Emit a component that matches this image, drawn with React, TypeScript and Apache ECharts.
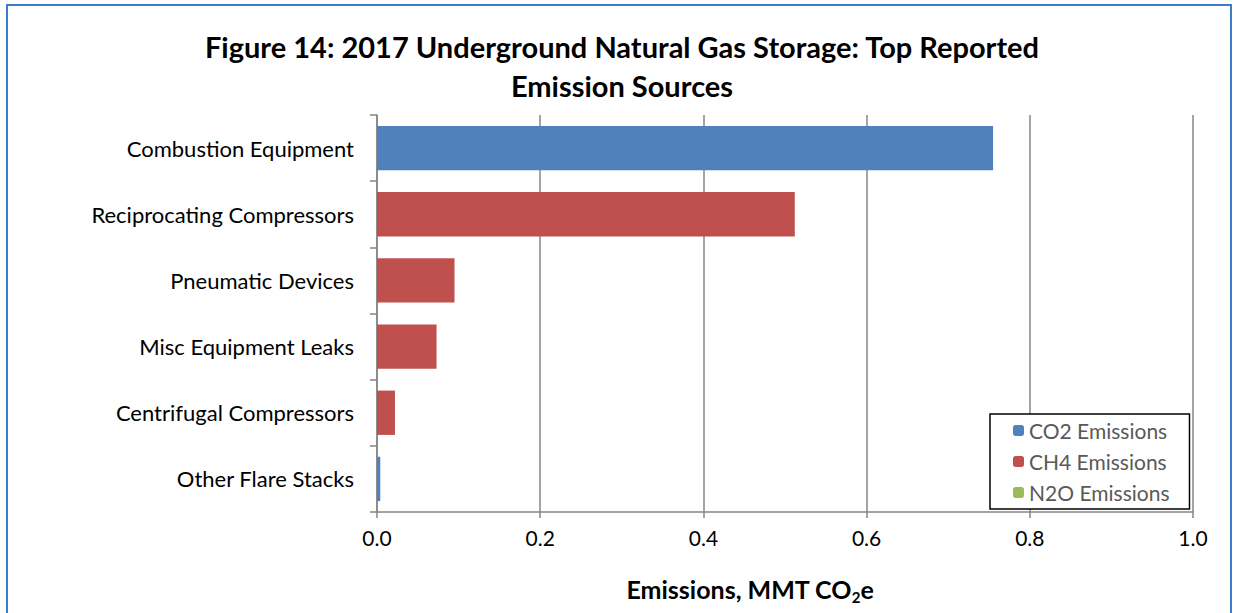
import React, { useEffect, useRef } from "react";
import * as echarts from "echarts";

const categories = [
  "Combustion Equipment",
  "Reciprocating Compressors",
  "Pneumatic Devices",
  "Misc Equipment Leaks",
  "Centrifugal Compressors",
  "Other Flare Stacks",
];
const co2Values = [0.755, 0, 0, 0, 0, 0.004];
const ch4Values = [0, 0.512, 0.095, 0.073, 0.022, 0];
const n2oValues = [0, 0, 0, 0, 0, 0];
const seriesNames = ["CO2 Emissions", "CH4 Emissions", "N2O Emissions"];
const seriesColors = ["#4F81BD", "#C0504D", "#9BBB59"];
const titleLines = [
  "Figure 14: 2017 Underground Natural Gas Storage: Top Reported",
  "Emission Sources",
];

const FONT = "Lato, 'Open Sans', sans-serif";

export default function App() {
  const ref = useRef<HTMLDivElement>(null);
  useEffect(() => {
    document.body.style.margin = "0";
    const chart = echarts.init(ref.current!, null, { renderer: "svg" });
    const values = [co2Values, ch4Values, n2oValues];
    chart.setOption({
      animation: false,
      backgroundColor: "#ffffff",
      textStyle: { fontFamily: FONT },
      grid: { left: 377, right: 45, top: 115, bottom: 101 },
      legend: {
        orient: "vertical",
        left: 990,
        top: 414,
        data: seriesNames,
        itemWidth: 11,
        itemHeight: 11,
        itemGap: 10,
        padding: [6, 20, 6, 23],
        borderColor: "#000000",
        borderWidth: 1.5,
        backgroundColor: "#ffffff",
        textStyle: { fontSize: 21, color: "#595959", fontFamily: FONT },
      },
      xAxis: {
        type: "value",
        min: 0,
        max: 1,
        interval: 0.2,
        axisLine: { show: true, lineStyle: { color: "#868686", width: 1.5 } },
        axisTick: { show: true, length: 6, lineStyle: { color: "#868686", width: 1.5 } },
        axisLabel: {
          formatter: (v: number) => v.toFixed(1),
          fontSize: 21,
          color: "#000000",
          margin: 15,
          fontFamily: FONT,
        },
        splitLine: { show: true, lineStyle: { color: "#868686", width: 1.5 } },
      },
      yAxis: {
        type: "category",
        data: categories,
        inverse: true,
        axisLine: { show: true, lineStyle: { color: "#868686", width: 1.5 } },
        axisTick: { show: true, length: 7, alignWithLabel: false, lineStyle: { color: "#868686", width: 1.5 } },
        axisLabel: { fontSize: 22, color: "#000000", margin: 23, fontFamily: FONT },
        splitLine: { show: false },
      },
      series: seriesNames.map((name, i) => ({
        name,
        type: "bar",
        stack: "total",
        data: values[i],
        barCategoryGap: "33%",
        itemStyle: { color: seriesColors[i] },
      })),
      graphic: [
        {
          type: "rect",
          shape: { x: 7, y: 5, width: 1224, height: 640 },
          style: { fill: "none", stroke: "#3D7CC9", lineWidth: 2 },
          silent: true,
        },
        {
          type: "text",
          x: 622,
          y: 46,
          style: {
            text: titleLines[0],
            font: `bold 29px ${FONT}`,
            fill: "#000000",
            align: "center",
            verticalAlign: "middle",
          },
        },
        {
          type: "text",
          x: 622,
          y: 85,
          style: {
            text: titleLines[1],
            font: `bold 29px ${FONT}`,
            fill: "#000000",
            align: "center",
            verticalAlign: "middle",
          },
        },
        {
          type: "text",
          x: 750,
          y: 587,
          style: {
            text: "{a|Emissions, MMT CO}{s|2}{a|e}",
            align: "center",
            verticalAlign: "middle",
            rich: {
              a: { font: `bold 25px ${FONT}`, fill: "#000000", color: "#000000", verticalAlign: "bottom", lineHeight: 28 },
              s: { font: `bold 15px ${FONT}`, fill: "#000000", color: "#000000", verticalAlign: "top", lineHeight: 6, padding: [16, 0, 0, 0] },
            },
          },
        },
      ],
    });
    return () => chart.dispose();
  }, []);
  return <div ref={ref} style={{ width: 1238, height: 613 }} />;
}
